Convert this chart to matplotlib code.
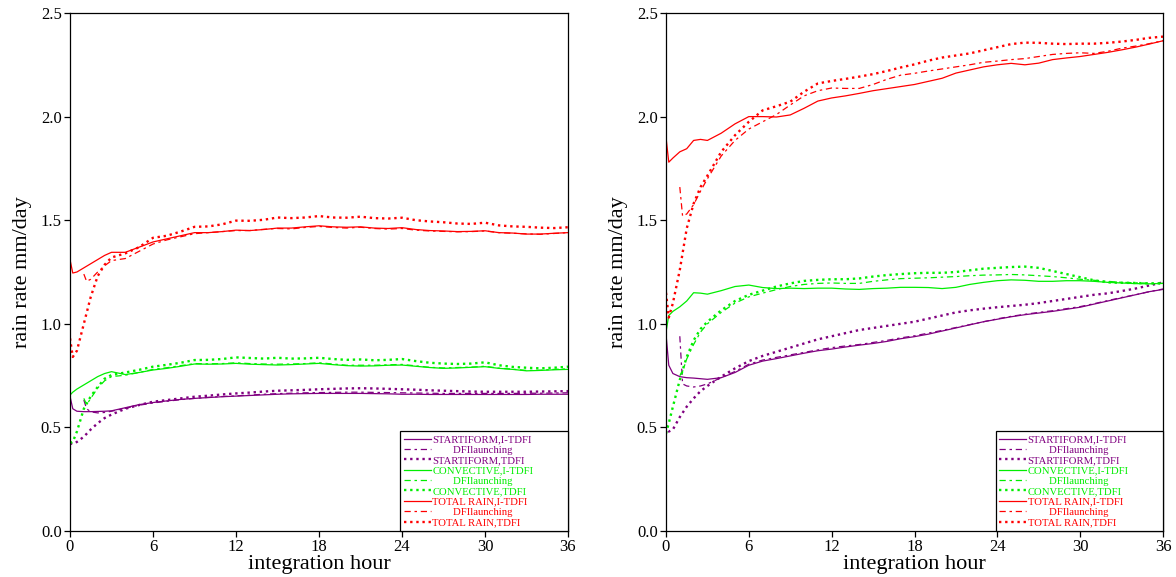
import matplotlib
matplotlib.use("Agg")
import matplotlib.pyplot as plt

# time axes (hours)
hours = [0, 0.2, 0.5, 1, 1.5, 2, 2.5] + list(range(3, 37))
hours_dfi = [1.0, 1.2, 1.5, 2, 2.5] + list(range(3, 37))

# ---- left panel ----
left_strat_itdfi = [0.65, 0.59, 0.578, 0.576, 0.576, 0.577, 0.578, 0.58, 0.595, 0.61,
                    0.62, 0.628, 0.635, 0.64, 0.644, 0.648, 0.651, 0.654, 0.657, 0.66,
                    0.662, 0.663, 0.664, 0.664, 0.664, 0.664, 0.663, 0.662, 0.66, 0.66,
                    0.659, 0.659, 0.659, 0.659, 0.659, 0.659, 0.659, 0.659, 0.66, 0.66, 0.66]
left_strat_dfi = [0.632, 0.59, 0.575, 0.57, 0.572, 0.578, 0.592, 0.607, 0.618, 0.626,
                  0.634, 0.64, 0.645, 0.649, 0.652, 0.656, 0.66, 0.663, 0.665, 0.667,
                  0.668, 0.669, 0.67, 0.67, 0.669, 0.668, 0.667, 0.666, 0.665, 0.664,
                  0.664, 0.664, 0.664, 0.664, 0.664, 0.665, 0.665, 0.666, 0.667]
left_strat_tdfi = [0.423, 0.42, 0.43, 0.455, 0.49, 0.52, 0.545, 0.562, 0.59, 0.608,
                   0.624, 0.632, 0.64, 0.648, 0.653, 0.659, 0.664, 0.668, 0.673, 0.677,
                   0.679, 0.681, 0.684, 0.686, 0.688, 0.689, 0.688, 0.686, 0.684, 0.682,
                   0.679, 0.677, 0.675, 0.673, 0.672, 0.672, 0.672, 0.672, 0.673, 0.674, 0.675]

left_conv_itdfi = [0.656, 0.67, 0.685, 0.705, 0.725, 0.745, 0.76, 0.769, 0.755, 0.765,
                   0.777, 0.785, 0.795, 0.806, 0.805, 0.806, 0.809, 0.805, 0.803, 0.801,
                   0.803, 0.806, 0.809, 0.803, 0.798, 0.796, 0.797, 0.8, 0.801, 0.795,
                   0.789, 0.785, 0.787, 0.79, 0.793, 0.785, 0.78, 0.773, 0.775, 0.778, 0.78]
left_conv_dfi = [0.64, 0.61, 0.64, 0.69, 0.725, 0.745, 0.752, 0.765, 0.78, 0.788,
                 0.798, 0.808, 0.807, 0.808, 0.812, 0.808, 0.806, 0.805, 0.806, 0.808,
                 0.812, 0.806, 0.8, 0.8, 0.8, 0.802, 0.804, 0.797, 0.79, 0.787,
                 0.789, 0.791, 0.795, 0.786, 0.781, 0.775, 0.776, 0.78, 0.783]
left_conv_tdfi = [0.425, 0.43, 0.48, 0.59, 0.65, 0.695, 0.735, 0.753, 0.765, 0.778,
                  0.793, 0.802, 0.812, 0.825, 0.826, 0.83, 0.838, 0.835, 0.832, 0.836,
                  0.832, 0.833, 0.836, 0.83, 0.826, 0.828, 0.824, 0.826, 0.83, 0.82,
                  0.812, 0.808, 0.806, 0.808, 0.814, 0.8, 0.792, 0.788, 0.785, 0.788, 0.793]

left_total_itdfi = [1.31, 1.245, 1.25, 1.27, 1.29, 1.31, 1.33, 1.345, 1.345, 1.37,
                    1.395, 1.41, 1.425, 1.44, 1.44, 1.445, 1.452, 1.45, 1.455, 1.462,
                    1.462, 1.468, 1.473, 1.468, 1.466, 1.468, 1.462, 1.46, 1.464, 1.455,
                    1.45, 1.448, 1.445, 1.446, 1.449, 1.44, 1.438, 1.433, 1.433, 1.437, 1.44]
left_total_dfi = [1.24, 1.205, 1.215, 1.25, 1.28, 1.305, 1.315, 1.35, 1.385, 1.405,
                  1.42, 1.435, 1.44, 1.445, 1.45, 1.45, 1.456, 1.46, 1.458, 1.465,
                  1.47, 1.465, 1.462, 1.466, 1.46, 1.457, 1.46, 1.452, 1.448, 1.446,
                  1.444, 1.445, 1.448, 1.44, 1.437, 1.434, 1.432, 1.436, 1.44]
left_total_tdfi = [0.93, 0.84, 0.87, 1.0, 1.13, 1.23, 1.285, 1.32, 1.34, 1.37,
                   1.415, 1.425, 1.445, 1.468, 1.47, 1.48, 1.498, 1.497, 1.502, 1.513,
                   1.51, 1.513, 1.52, 1.513, 1.512, 1.517, 1.51, 1.508, 1.512, 1.5,
                   1.494, 1.49, 1.484, 1.482, 1.488, 1.475, 1.47, 1.468, 1.464, 1.462, 1.466]

# ---- right panel ----
right_strat_itdfi = [0.95, 0.80, 0.76, 0.745, 0.74, 0.738, 0.735, 0.732, 0.74, 0.765,
                     0.8, 0.82, 0.832, 0.845, 0.858, 0.87, 0.878, 0.888, 0.897, 0.905,
                     0.915, 0.928, 0.938, 0.95, 0.965, 0.98, 0.995, 1.01, 1.022, 1.034,
                     1.044, 1.052, 1.06, 1.07, 1.08, 1.095, 1.11, 1.125, 1.14, 1.155, 1.166]
right_strat_dfi = [0.94, 0.71, 0.70, 0.695, 0.70, 0.71, 0.74, 0.77, 0.805, 0.825,
                   0.838, 0.85, 0.862, 0.874, 0.885, 0.893, 0.9, 0.91, 0.92, 0.932,
                   0.942, 0.955, 0.968, 0.982, 0.996, 1.01, 1.024, 1.036, 1.046, 1.055,
                   1.063, 1.073, 1.083, 1.097, 1.112, 1.127, 1.14, 1.155, 1.168]
right_strat_tdfi = [0.51, 0.48, 0.49, 0.55, 0.6, 0.64, 0.675, 0.70, 0.745, 0.785,
                    0.82, 0.845, 0.865, 0.885, 0.905, 0.925, 0.94, 0.955, 0.97, 0.98,
                    0.99, 1.0, 1.01, 1.025, 1.04, 1.055, 1.065, 1.073, 1.08, 1.086,
                    1.092, 1.1, 1.11, 1.12, 1.13, 1.14, 1.147, 1.158, 1.17, 1.185, 1.2]

right_conv_itdfi = [0.96, 1.04, 1.06, 1.082, 1.11, 1.15, 1.148, 1.143, 1.16, 1.18,
                    1.187, 1.175, 1.17, 1.172, 1.17, 1.172, 1.172, 1.168, 1.166, 1.17,
                    1.172, 1.176, 1.176, 1.175, 1.17, 1.176, 1.19, 1.2, 1.208, 1.212,
                    1.21, 1.205, 1.205, 1.208, 1.208, 1.205, 1.2, 1.197, 1.194, 1.193, 1.195]
right_conv_dfi = [0.75, 0.77, 0.83, 0.9, 0.96, 1.0, 1.055, 1.1, 1.13, 1.148,
                  1.165, 1.18, 1.19, 1.195, 1.197, 1.195, 1.195, 1.205, 1.212, 1.218,
                  1.22, 1.222, 1.225, 1.228, 1.232, 1.235, 1.236, 1.238, 1.236, 1.232,
                  1.228, 1.222, 1.215, 1.21, 1.205, 1.2, 1.198, 1.196, 1.195]
right_conv_tdfi = [0.47, 0.52, 0.6, 0.73, 0.84, 0.92, 0.975, 1.01, 1.065, 1.11,
                   1.14, 1.16, 1.18, 1.195, 1.207, 1.212, 1.215, 1.215, 1.219, 1.228,
                   1.235, 1.24, 1.244, 1.246, 1.246, 1.25, 1.258, 1.266, 1.27, 1.274,
                   1.276, 1.27, 1.255, 1.24, 1.225, 1.21, 1.2, 1.198, 1.197, 1.195, 1.195]

right_total_itdfi = [1.90, 1.78, 1.80, 1.83, 1.845, 1.885, 1.89, 1.885, 1.92, 1.965,
                     2.0, 2.0, 1.998, 2.008, 2.04, 2.075, 2.09, 2.1, 2.112, 2.125,
                     2.135, 2.145, 2.155, 2.17, 2.185, 2.21, 2.225, 2.24, 2.25, 2.257,
                     2.25, 2.258, 2.275, 2.283, 2.29, 2.3, 2.31, 2.322, 2.335, 2.35, 2.366]
right_total_dfi = [1.66, 1.52, 1.53, 1.575, 1.64, 1.7, 1.81, 1.885, 1.94, 1.975,
                   2.01, 2.056, 2.1, 2.125, 2.138, 2.136, 2.136, 2.155, 2.18, 2.2,
                   2.209, 2.22, 2.23, 2.24, 2.25, 2.262, 2.268, 2.275, 2.28, 2.29,
                   2.3, 2.305, 2.308, 2.305, 2.315, 2.33, 2.34, 2.352, 2.366]
right_total_tdfi = [1.15, 1.03, 1.10, 1.26, 1.46, 1.58, 1.66, 1.715, 1.83, 1.91,
                    1.975, 2.03, 2.05, 2.072, 2.12, 2.16, 2.172, 2.182, 2.193, 2.205,
                    2.22, 2.237, 2.252, 2.27, 2.285, 2.295, 2.305, 2.32, 2.335, 2.35,
                    2.357, 2.356, 2.352, 2.35, 2.352, 2.352, 2.356, 2.362, 2.37, 2.38, 2.386]

labels = ["STARTIFORM,I-TDFI", "DFIlaunching", "STARTIFORM,TDFI",
          "CONVECTIVE,I-TDFI", "DFIlaunching", "CONVECTIVE,TDFI",
          "TOTAL RAIN,I-TDFI", "DFIlaunching", "TOTAL RAIN,TDFI"]

PURPLE = "#800080"
GREEN = "#00ee00"
RED = "#ff0000"

plt.rcParams["font.family"] = ["Liberation Serif", "DejaVu Serif"]

fig = plt.figure(figsize=(11.76, 5.77), dpi=100)
ax_l = fig.add_axes([70 / 1176, 46 / 577, 498 / 1176, 518 / 577])
ax_r = fig.add_axes([666 / 1176, 46 / 577, 497 / 1176, 518 / 577])

SOLID = "-"
DASH = (0, (5, 3, 2, 3))
DOT = (0, (1, 1.6))


def draw(ax, groups):
    for color, itdfi, dfi, tdfi in groups:
        ax.plot(hours, itdfi, color=color, ls=SOLID, lw=0.9)
        ax.plot(hours_dfi, dfi, color=color, ls=DASH, lw=0.9)
        ax.plot(hours, tdfi, color=color, ls=DOT, lw=1.7)

    ax.set_xlim(0, 36)
    ax.set_ylim(0, 2.5)
    ax.set_xticks(range(0, 37, 6))
    ax.set_yticks([0, 0.5, 1.0, 1.5, 2.0, 2.5])
    ax.set_yticklabels(["0.0", "0.5", "1.0", "1.5", "2.0", "2.5"])
    ax.tick_params(direction="out", length=4, width=0.9, labelsize=12, pad=2)
    for s in ax.spines.values():
        s.set_linewidth(0.9)
    ax.set_xlabel("integration hour", fontsize=16, labelpad=0)
    ax.set_ylabel("rain rate mm/day", fontsize=16, labelpad=6)

    names = [("        " + t if t == "DFIlaunching" else t) for t in labels]
    leg = ax.legend(names, loc="lower left", bbox_to_anchor=(0.663, 0, 0.337, 0.19),
                    mode="expand", fontsize=7.7, frameon=True,
                    fancybox=False, framealpha=1, edgecolor="black",
                    borderaxespad=0, labelspacing=0.08, handlelength=2.5,
                    handletextpad=0.15, borderpad=0.35, labelcolor="linecolor")
    leg.get_frame().set_linewidth(0.9)


draw(ax_l, [(PURPLE, left_strat_itdfi, left_strat_dfi, left_strat_tdfi),
            (GREEN, left_conv_itdfi, left_conv_dfi, left_conv_tdfi),
            (RED, left_total_itdfi, left_total_dfi, left_total_tdfi)])
draw(ax_r, [(PURPLE, right_strat_itdfi, right_strat_dfi, right_strat_tdfi),
            (GREEN, right_conv_itdfi, right_conv_dfi, right_conv_tdfi),
            (RED, right_total_itdfi, right_total_dfi, right_total_tdfi)])

fig.savefig("out.png", dpi=100)
